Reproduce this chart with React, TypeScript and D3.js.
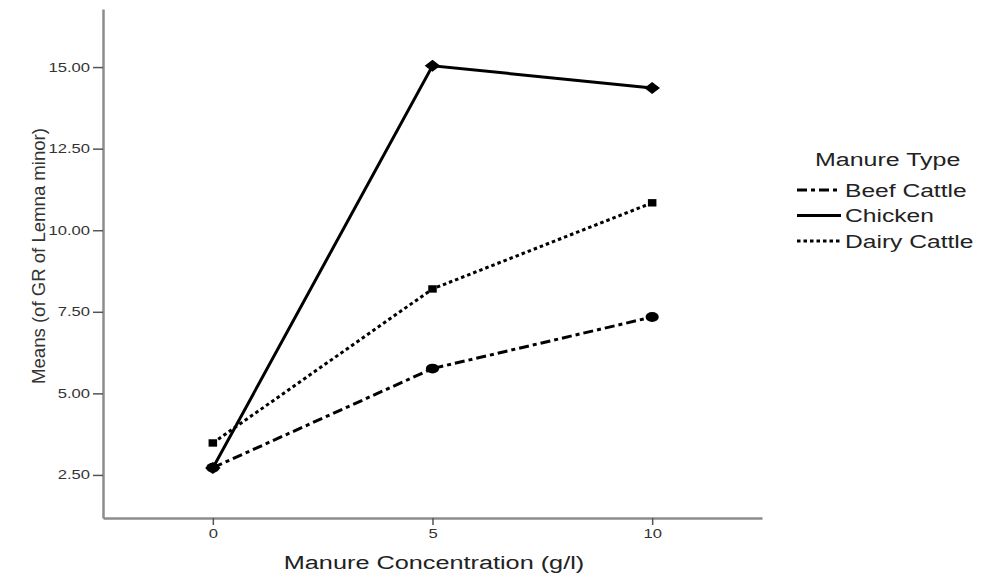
import { useEffect, useRef } from "react";
import * as d3 from "d3";

const concentrations = [0, 5, 10];
const beefCattle = [2.72, 5.76, 7.34];
const chicken = [2.71, 15.04, 14.36];
const dairyCattle = [3.48, 8.2, 10.84];
const yTicks = [2.5, 5, 7.5, 10, 12.5, 15];

interface Series {
    name: string;
    values: number[];
    dash: string;
    symbol: d3.SymbolType;
    size: number;
    shape: string; // extra transform for the marker
}

const series: Series[] = [
    { name: "Beef Cattle", values: beefCattle, dash: "10,4,4,4", symbol: d3.symbolCircle, size: 75, shape: "scale(1.35,1)" },
    { name: "Dairy Cattle", values: dairyCattle, dash: "3.5,3", symbol: d3.symbolSquare, size: 55, shape: "scale(1.15,1)" },
    { name: "Chicken", values: chicken, dash: "none", symbol: d3.symbolSquare, size: 72, shape: "scale(1.3,1) rotate(45)" },
];
const legendOrder = ["Beef Cattle", "Chicken", "Dairy Cattle"];

const width = 990;
const height = 577;
const font = "'Liberation Sans', Arial, sans-serif";
const stretch = 1.33; // the picture's text is drawn wide

const App = () => {
    const svgRef = useRef<SVGSVGElement | null>(null);

    useEffect(() => {
        const svg = d3.select(svgRef.current);
        svg.selectAll("*").remove();

        const x = d3.scaleLinear().domain([-2.5, 12.5]).range([103, 762]);
        const y = d3.scaleLinear().domain([1.18, 16.78]).range([518, 9]);

        const wideText = (g: d3.Selection<any, unknown, null, undefined>, tx: number, ty: number, size: number, label: string) =>
            g.append("text")
                .attr("transform", `translate(${tx},${ty}) scale(${stretch},1)`)
                .attr("font-family", font).attr("font-size", size).attr("fill", "#222")
                .text(label);

        // y axis
        const yAxis = svg.append("g").attr("transform", "translate(103,0)")
            .call(d3.axisLeft(y).tickValues(yTicks).tickFormat(d3.format(".2f")).tickSize(10).tickSizeOuter(0));
        // x axis
        const xAxis = svg.append("g").attr("transform", "translate(0,518)")
            .call(d3.axisBottom(x).tickValues(concentrations).tickSize(7).tickSizeOuter(0));

        [yAxis, xAxis].forEach(ax => {
            ax.select(".domain").attr("stroke", "#8c8c8c").attr("stroke-width", 2.5);
            ax.selectAll(".tick line").attr("stroke", "#555").attr("stroke-width", 1.5);
            ax.selectAll(".tick text")
                .attr("font-family", font).attr("font-size", 12.5).attr("fill", "#333")
                .attr("transform", `scale(${stretch},1)`);
        });
        yAxis.selectAll(".tick text").attr("x", -13 / stretch);
        xAxis.selectAll(".tick text").attr("y", 11);

        // axis titles
        svg.append("text")
            .attr("transform", "translate(45,256) rotate(-90)")
            .attr("text-anchor", "middle")
            .attr("font-family", font).attr("font-size", 18).attr("fill", "#333")
            .attr("textLength", 256).attr("lengthAdjust", "spacingAndGlyphs")
            .text("Means (of GR of Lemna minor)");
        wideText(svg, 434, 569, 19, "Manure Concentration (g/l)").attr("text-anchor", "middle");

        const line = d3.line<number>()
            .x((_, i) => x(concentrations[i]))
            .y(d => y(d));

        series.forEach(s => {
            svg.append("path")
                .datum(s.values)
                .attr("d", line)
                .attr("fill", "none")
                .attr("stroke", "#000")
                .attr("stroke-width", 3)
                .attr("stroke-dasharray", s.dash);
            svg.selectAll(null)
                .data(s.values)
                .enter()
                .append("path")
                .attr("d", d3.symbol().type(s.symbol).size(s.size)())
                .attr("transform", (d, i) => `translate(${x(concentrations[i])},${y(d)}) ${s.shape}`)
                .attr("fill", "#000");
        });

        // legend
        const legend = svg.append("g");
        wideText(legend, 815, 166, 18.8, "Manure Type");
        legendOrder.forEach((name, i) => {
            const s = series.find(d => d.name === name)!;
            const yy = 190 + i * 25.5;
            legend.append("line")
                .attr("x1", 797).attr("x2", 841).attr("y1", yy).attr("y2", yy)
                .attr("stroke", "#000").attr("stroke-width", 3)
                .attr("stroke-dasharray", s.dash);
            wideText(legend, 845, yy + 6.5, 18.5, name);
        });
    }, []);

    return (
        <svg ref={svgRef} width={width} height={height}
            style={{ position: "absolute", left: 0, top: 0, background: "#fff" }} />
    );
};

export default App;
